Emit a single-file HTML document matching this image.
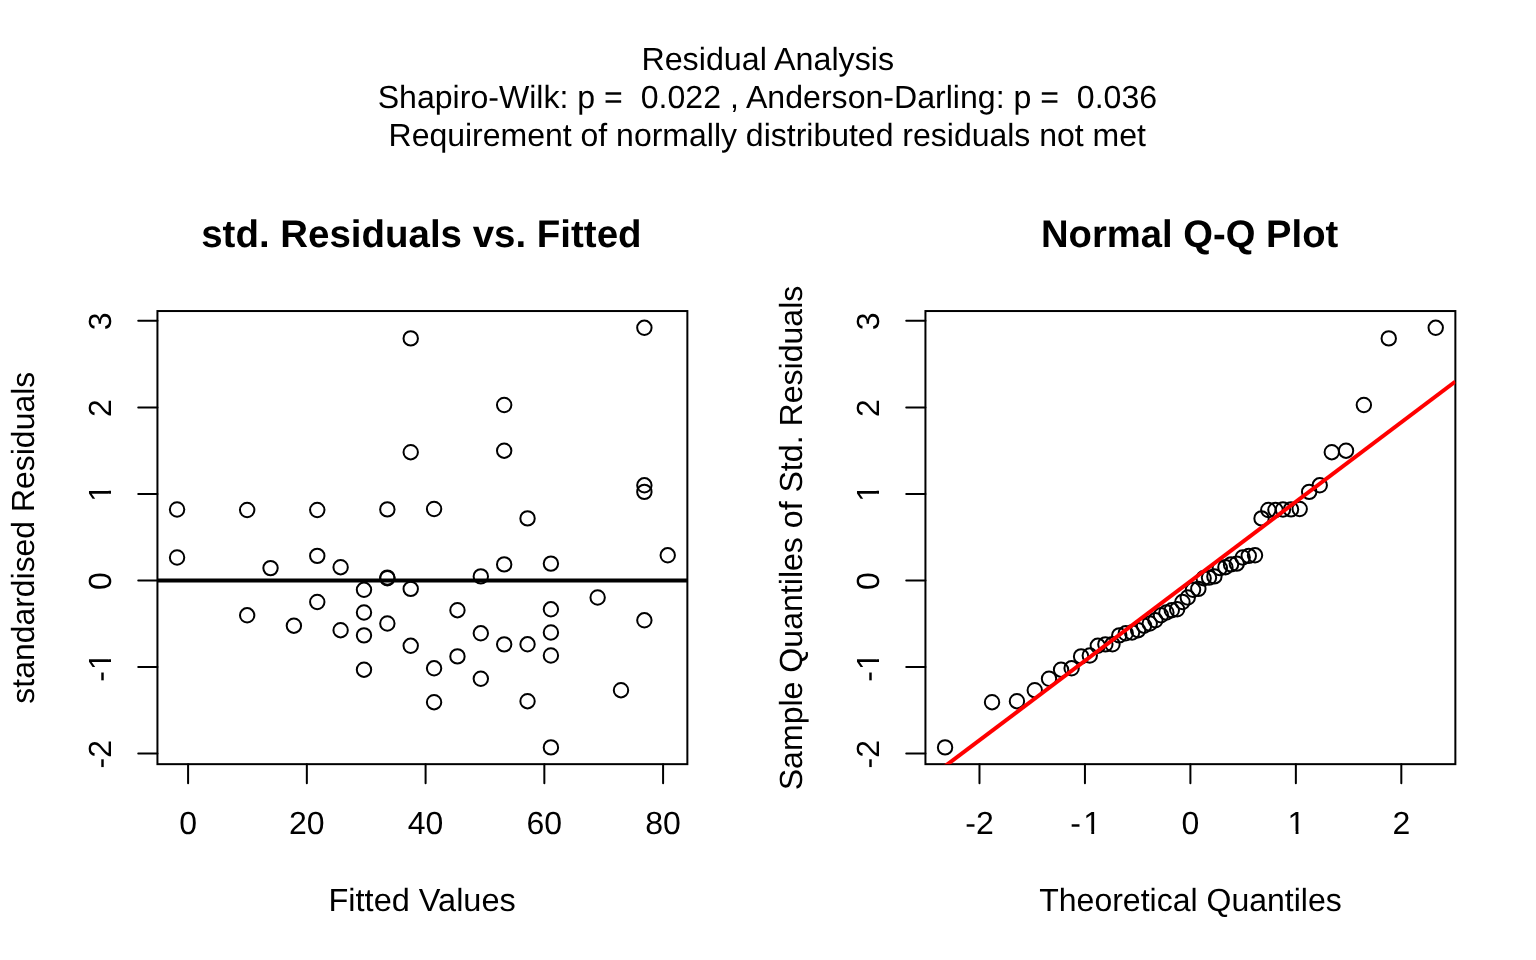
<!DOCTYPE html><html><head><meta charset="utf-8"><style>html,body{margin:0;padding:0;background:#fff;}svg{display:block;will-change:transform}text{font-family:"Liberation Sans",Arial,Helvetica,sans-serif;fill:#000;white-space:pre;text-rendering:geometricPrecision}</style></head><body>
<svg width="1536" height="960" viewBox="0 0 1536 960">
<rect x="0" y="0" width="1536" height="960" fill="#fff"/>
<defs><clipPath id="chp" clipPathUnits="userSpaceOnUse"><rect x="-30" y="-45" width="60" height="42"/><rect x="-0.851" y="-4" width="2.83" height="8"/></clipPath><clipPath id="chm" clipPathUnits="userSpaceOnUse"><rect x="-30" y="-45" width="60" height="42"/><rect x="5.630" y="-4" width="2.83" height="8"/></clipPath><clipPath id="cvp" clipPathUnits="userSpaceOnUse"><rect x="-30" y="-45" width="60" height="42"/><rect x="-0.851" y="-4" width="2.83" height="8"/></clipPath><clipPath id="cvm" clipPathUnits="userSpaceOnUse"><rect x="-30" y="-45" width="60" height="42"/><rect x="5.080" y="-4" width="2.83" height="8"/></clipPath></defs>
<text transform="translate(767.76,70) scale(1.00777,1)" font-size="32" text-anchor="middle">Residual Analysis</text>
<text transform="translate(767.38,108) scale(1.00282,1)" font-size="32" text-anchor="middle">Shapiro-Wilk: p =  0.022 , Anderson-Darling: p =  0.036</text>
<text transform="translate(767.22,146) scale(0.99958,1)" font-size="32" text-anchor="middle">Requirement of normally distributed residuals not met</text>
<text transform="translate(421.37,247) scale(1.00191,1)" font-size="38.4" font-weight="bold" text-anchor="middle">std. Residuals vs. Fitted</text>
<text transform="translate(422.12,911) scale(1.01552,1)" font-size="32" text-anchor="middle">Fitted Values</text>
<text transform="translate(34.40,537.76) rotate(-90) scale(0.99782,1)" font-size="32" text-anchor="middle">standardised Residuals</text>
<rect x="157.44" y="311.04" width="529.92" height="453.12" fill="none" stroke="#000" stroke-width="2"/>
<text transform="translate(188.09,834)" font-size="32" text-anchor="middle">0</text>
<text transform="translate(306.84,834)" font-size="32" text-anchor="middle">20</text>
<text transform="translate(425.59,834)" font-size="32" text-anchor="middle">40</text>
<text transform="translate(544.34,834)" font-size="32" text-anchor="middle">60</text>
<text transform="translate(663.09,834)" font-size="32" text-anchor="middle">80</text>
<text transform="translate(111,754.20) rotate(-90)" font-size="32" text-anchor="middle">-2</text>
<text transform="translate(111,667.05) rotate(-90)" clip-path="url(#cvm)" font-size="32" text-anchor="middle">-<tspan dx="1.2">1</tspan></text>
<text transform="translate(111,581.10) rotate(-90)" font-size="32" text-anchor="middle">0</text>
<text transform="translate(111,492.85) rotate(-90)" clip-path="url(#cvp)" font-size="32" text-anchor="middle">1</text>
<text transform="translate(111,408.00) rotate(-90)" font-size="32" text-anchor="middle">2</text>
<text transform="translate(111,321.45) rotate(-90)" font-size="32" text-anchor="middle">3</text>
<path d="M188.09 764.16V783.36M306.84 764.16V783.36M425.59 764.16V783.36M544.34 764.16V783.36M663.09 764.16V783.36M157.44 753.60H138.24M157.44 667.05H138.24M157.44 580.50H138.24M157.44 493.95H138.24M157.44 407.40H138.24M157.44 320.85H138.24" stroke="#000" stroke-width="2" stroke-linecap="round" fill="none"/>
<text transform="translate(1189.66,247) scale(0.99547,1)" font-size="38.4" font-weight="bold" text-anchor="middle">Normal Q-Q Plot</text>
<text transform="translate(1190.48,911) scale(1.00033,1)" font-size="32" text-anchor="middle">Theoretical Quantiles</text>
<text transform="translate(802.40,538.00) rotate(-90) scale(1.00256,1)" font-size="32" text-anchor="middle">Sample Quantiles of Std. Residuals</text>
<rect x="925.44" y="311.04" width="529.92" height="453.12" fill="none" stroke="#000" stroke-width="2"/>
<text transform="translate(979.48,834)" font-size="32" text-anchor="middle">-2</text>
<text transform="translate(1085.69,834)" clip-path="url(#chm)" font-size="32" text-anchor="middle">-<tspan dx="2.3">1</tspan></text>
<text transform="translate(1190.40,834)" font-size="32" text-anchor="middle">0</text>
<text transform="translate(1296.51,834)" clip-path="url(#chp)" font-size="32" text-anchor="middle">1</text>
<text transform="translate(1401.32,834)" font-size="32" text-anchor="middle">2</text>
<text transform="translate(879,754.20) rotate(-90)" font-size="32" text-anchor="middle">-2</text>
<text transform="translate(879,667.05) rotate(-90)" clip-path="url(#cvm)" font-size="32" text-anchor="middle">-<tspan dx="1.2">1</tspan></text>
<text transform="translate(879,581.10) rotate(-90)" font-size="32" text-anchor="middle">0</text>
<text transform="translate(879,492.85) rotate(-90)" clip-path="url(#cvp)" font-size="32" text-anchor="middle">1</text>
<text transform="translate(879,408.00) rotate(-90)" font-size="32" text-anchor="middle">2</text>
<text transform="translate(879,321.45) rotate(-90)" font-size="32" text-anchor="middle">3</text>
<path d="M979.48 764.16V783.36M1084.94 764.16V783.36M1190.40 764.16V783.36M1295.86 764.16V783.36M1401.32 764.16V783.36M925.44 753.60H906.24M925.44 667.05H906.24M925.44 580.50H906.24M925.44 493.95H906.24M925.44 407.40H906.24M925.44 320.85H906.24" stroke="#000" stroke-width="2" stroke-linecap="round" fill="none"/>
<line x1="157.44" y1="580.5" x2="687.36" y2="580.5" stroke="#000" stroke-width="4"/>
<g fill="none" stroke="#000" stroke-width="2">
<circle cx="177.07" cy="509.50" r="7.2"/>
<circle cx="177.07" cy="557.50" r="7.2"/>
<circle cx="247.16" cy="510.00" r="7.2"/>
<circle cx="247.16" cy="615.30" r="7.2"/>
<circle cx="270.53" cy="568.10" r="7.2"/>
<circle cx="293.89" cy="625.70" r="7.2"/>
<circle cx="317.26" cy="510.00" r="7.2"/>
<circle cx="317.26" cy="555.90" r="7.2"/>
<circle cx="317.26" cy="602.00" r="7.2"/>
<circle cx="340.62" cy="567.20" r="7.2"/>
<circle cx="340.62" cy="630.20" r="7.2"/>
<circle cx="363.99" cy="589.80" r="7.2"/>
<circle cx="363.99" cy="612.50" r="7.2"/>
<circle cx="363.99" cy="635.35" r="7.2"/>
<circle cx="363.99" cy="669.70" r="7.2"/>
<circle cx="387.35" cy="509.40" r="7.2"/>
<circle cx="387.35" cy="577.60" r="7.2"/>
<circle cx="387.35" cy="578.20" r="7.2"/>
<circle cx="387.35" cy="623.50" r="7.2"/>
<circle cx="410.72" cy="338.40" r="7.2"/>
<circle cx="410.72" cy="452.20" r="7.2"/>
<circle cx="410.72" cy="588.90" r="7.2"/>
<circle cx="410.72" cy="645.80" r="7.2"/>
<circle cx="434.08" cy="509.00" r="7.2"/>
<circle cx="434.08" cy="668.30" r="7.2"/>
<circle cx="434.08" cy="702.20" r="7.2"/>
<circle cx="457.45" cy="610.20" r="7.2"/>
<circle cx="457.45" cy="656.40" r="7.2"/>
<circle cx="480.81" cy="576.40" r="7.2"/>
<circle cx="480.81" cy="633.30" r="7.2"/>
<circle cx="480.81" cy="678.75" r="7.2"/>
<circle cx="504.18" cy="405.00" r="7.2"/>
<circle cx="504.18" cy="450.70" r="7.2"/>
<circle cx="504.18" cy="564.40" r="7.2"/>
<circle cx="504.18" cy="644.35" r="7.2"/>
<circle cx="527.54" cy="518.40" r="7.2"/>
<circle cx="527.54" cy="644.30" r="7.2"/>
<circle cx="527.54" cy="701.20" r="7.2"/>
<circle cx="550.91" cy="563.60" r="7.2"/>
<circle cx="550.91" cy="609.30" r="7.2"/>
<circle cx="550.91" cy="632.50" r="7.2"/>
<circle cx="550.91" cy="655.50" r="7.2"/>
<circle cx="550.91" cy="747.38" r="7.2"/>
<circle cx="597.64" cy="597.50" r="7.2"/>
<circle cx="621.00" cy="690.20" r="7.2"/>
<circle cx="644.37" cy="327.82" r="7.2"/>
<circle cx="644.37" cy="485.30" r="7.2"/>
<circle cx="644.37" cy="491.90" r="7.2"/>
<circle cx="644.37" cy="620.30" r="7.2"/>
<circle cx="667.73" cy="555.30" r="7.2"/>
</g>
<g fill="none" stroke="#000" stroke-width="2">
<circle cx="945.07" cy="747.38" r="7.2"/>
<circle cx="992.05" cy="702.20" r="7.2"/>
<circle cx="1016.94" cy="701.20" r="7.2"/>
<circle cx="1034.77" cy="690.20" r="7.2"/>
<circle cx="1049.01" cy="678.75" r="7.2"/>
<circle cx="1061.05" cy="669.70" r="7.2"/>
<circle cx="1071.61" cy="668.30" r="7.2"/>
<circle cx="1081.10" cy="656.40" r="7.2"/>
<circle cx="1089.78" cy="655.50" r="7.2"/>
<circle cx="1097.82" cy="645.80" r="7.2"/>
<circle cx="1105.36" cy="644.35" r="7.2"/>
<circle cx="1112.48" cy="644.30" r="7.2"/>
<circle cx="1119.27" cy="635.35" r="7.2"/>
<circle cx="1125.77" cy="633.30" r="7.2"/>
<circle cx="1132.04" cy="632.50" r="7.2"/>
<circle cx="1138.11" cy="630.20" r="7.2"/>
<circle cx="1144.01" cy="625.70" r="7.2"/>
<circle cx="1149.76" cy="623.50" r="7.2"/>
<circle cx="1155.40" cy="620.30" r="7.2"/>
<circle cx="1160.94" cy="615.30" r="7.2"/>
<circle cx="1166.40" cy="612.50" r="7.2"/>
<circle cx="1171.80" cy="610.20" r="7.2"/>
<circle cx="1177.15" cy="609.30" r="7.2"/>
<circle cx="1182.46" cy="602.00" r="7.2"/>
<circle cx="1187.76" cy="597.50" r="7.2"/>
<circle cx="1193.04" cy="589.80" r="7.2"/>
<circle cx="1198.34" cy="588.90" r="7.2"/>
<circle cx="1203.65" cy="578.20" r="7.2"/>
<circle cx="1209.00" cy="577.60" r="7.2"/>
<circle cx="1214.40" cy="576.40" r="7.2"/>
<circle cx="1219.86" cy="568.10" r="7.2"/>
<circle cx="1225.40" cy="567.20" r="7.2"/>
<circle cx="1231.04" cy="564.40" r="7.2"/>
<circle cx="1236.79" cy="563.60" r="7.2"/>
<circle cx="1242.69" cy="557.50" r="7.2"/>
<circle cx="1248.76" cy="555.90" r="7.2"/>
<circle cx="1255.03" cy="555.30" r="7.2"/>
<circle cx="1261.53" cy="518.40" r="7.2"/>
<circle cx="1268.32" cy="510.00" r="7.2"/>
<circle cx="1275.44" cy="510.00" r="7.2"/>
<circle cx="1282.98" cy="509.50" r="7.2"/>
<circle cx="1291.02" cy="509.40" r="7.2"/>
<circle cx="1299.70" cy="509.00" r="7.2"/>
<circle cx="1309.19" cy="491.90" r="7.2"/>
<circle cx="1319.75" cy="485.30" r="7.2"/>
<circle cx="1331.79" cy="452.20" r="7.2"/>
<circle cx="1346.03" cy="450.70" r="7.2"/>
<circle cx="1363.86" cy="405.00" r="7.2"/>
<circle cx="1388.75" cy="338.40" r="7.2"/>
<circle cx="1435.73" cy="327.82" r="7.2"/>
</g>
<defs><clipPath id="cr"><rect x="925.44" y="311.04" width="529.92" height="453.12"/></clipPath></defs>
<line clip-path="url(#cr)" x1="925.44" y1="780.91" x2="1455.36" y2="381.55" stroke="#ff0000" stroke-width="4"/>
</svg></body></html>
